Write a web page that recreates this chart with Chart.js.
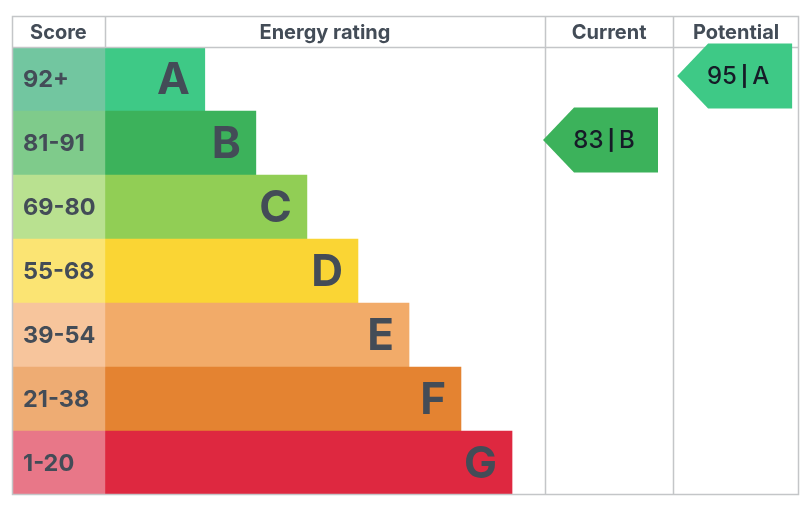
<!DOCTYPE html>
<html>
<head>
<meta charset="utf-8">
<script src="https://cdn.jsdelivr.net/npm/chart.js@4/dist/chart.umd.min.js"></script>
<style>
  html, body { margin: 0; padding: 0; background: #ffffff; }
  #wrap { width: 810px; height: 514px; }
</style>
</head>
<body>
<div id="wrap"><canvas id="epc" width="810" height="514"></canvas></div>
<script>
// Data
const ratings = ['A', 'B', 'C', 'D', 'E', 'F', 'G'];
const scoreBands = ['92+', '81-91', '69-80', '55-68', '39-54', '21-38', '1-20'];
// bar length as % of the energy rating column
const barLengths = [22.7, 34.3, 45.9, 57.5, 69.1, 80.9, 92.5];
const currentScore = 83;
const currentRating = 'B';
const potentialScore = 95;
const potentialRating = 'A';

const bandColors = ['#3ec986', '#3cb25b', '#91ce55', '#fad534', '#f2ab69', '#e48331', '#de2840'];
const scoreColors = ['#72c6a0', '#7fcb8b', '#b9e190', '#fbe473', '#f7c59c', '#eeac73', '#e87788'];

// column widths in the same units as the bars (energy column = 100)
const SCORE_W = 21.1;
const ENERGY_W = 100;
const CURRENT_W = 29.1;
const POTENTIAL_W = 28.6;

const gridColor = '#c4c6c8';
const textColor = '#434c57';

const tablePlugin = {
  id: 'epcTable',
  afterDatasetsDraw(chart) {
    const { ctx, chartArea, scales } = chart;
    const x = scales.x, y = scales.y;
    const top = 16;
    const left = chartArea.left, right = chartArea.right, bottom = chartArea.bottom;
    const energyLeft = x.getPixelForValue(0);
    const currentLeft = x.getPixelForValue(ENERGY_W);
    const potentialLeft = x.getPixelForValue(ENERGY_W + CURRENT_W);

    ctx.save();

    // grid
    ctx.strokeStyle = gridColor;
    ctx.lineWidth = 1.5;
    ctx.strokeRect(left + 0.5, top + 0.5, right - left - 1, bottom - top - 1);
    ctx.beginPath();
    ctx.moveTo(left, chartArea.top + 0.5);
    ctx.lineTo(right, chartArea.top + 0.5);
    ctx.moveTo(Math.round(energyLeft) + 0.5, top);
    ctx.lineTo(Math.round(energyLeft) + 0.5, chartArea.top);
    ctx.moveTo(Math.round(currentLeft) + 0.5, top);
    ctx.lineTo(Math.round(currentLeft) + 0.5, bottom);
    ctx.moveTo(Math.round(potentialLeft) + 0.5, top);
    ctx.lineTo(Math.round(potentialLeft) + 0.5, bottom);
    ctx.stroke();

    // header
    const headY = (top + chartArea.top) / 2 + 1;
    ctx.fillStyle = textColor;
    ctx.font = 'bold 20px Inter, "Noto Sans", sans-serif';
    ctx.textAlign = 'center';
    ctx.textBaseline = 'middle';
    ctx.fillText('Score', (left + energyLeft) / 2, headY);
    ctx.fillText('Energy rating', (energyLeft + currentLeft) / 2, headY);
    ctx.fillText('Current', (currentLeft + potentialLeft) / 2, headY);
    ctx.fillText('Potential', (potentialLeft + right) / 2, headY);

    // score labels and letters
    ratings.forEach((r, i) => {
      const cy = y.getPixelForValue(i) + 1;
      ctx.textAlign = 'left';
      ctx.font = 'bold 23.5px Inter, "Noto Sans", sans-serif';
      ctx.fillText(scoreBands[i], left + 11, cy);
      ctx.textAlign = 'right';
      ctx.font = 'bold 44px Inter, "Noto Sans", sans-serif';
      ctx.fillText(r, x.getPixelForValue(barLengths[i]) - 15, cy + 1);
    });

    // arrows
    const drawArrow = (score, rating, tipX, color) => {
      const i = ratings.indexOf(rating);
      const cy = y.getPixelForValue(i) - 3;
      const h = 65, w = 115, tip = 31;
      ctx.fillStyle = color;
      ctx.beginPath();
      ctx.moveTo(tipX, cy);
      ctx.lineTo(tipX + tip, cy - h / 2);
      ctx.lineTo(tipX + w, cy - h / 2);
      ctx.lineTo(tipX + w, cy + h / 2);
      ctx.lineTo(tipX + tip, cy + h / 2);
      ctx.closePath();
      ctx.fill();

      // "83 | B" as three parts, heavier pipe
      const fontMain = '500 24px Inter, "Noto Sans", sans-serif';
      const fontPipe = 'bold 20px Inter, "Noto Sans", sans-serif';
      const gap = 4;
      ctx.font = fontMain;
      const w1 = ctx.measureText(String(score)).width;
      const w2 = ctx.measureText(rating).width;
      ctx.font = fontPipe;
      const wp = ctx.measureText('|').width;
      const total = w1 + gap + wp + gap + w2;
      let tx = tipX + w / 2 + 3.5 - total / 2;
      const ty = cy + 1;
      ctx.fillStyle = '#161b27';
      ctx.textAlign = 'left';
      ctx.font = fontMain;
      ctx.fillText(String(score), tx, ty);
      tx += w1 + gap;
      ctx.font = fontPipe;
      ctx.fillText('|', tx, ty);
      tx += wp + gap;
      ctx.font = fontMain;
      ctx.fillText(rating, tx, ty);
    };
    drawArrow(currentScore, currentRating, currentLeft - 2, bandColors[ratings.indexOf(currentRating)]);
    drawArrow(potentialScore, potentialRating, potentialLeft + 4, bandColors[ratings.indexOf(potentialRating)]);

    ctx.restore();
  }
};

new Chart(document.getElementById('epc'), {
  type: 'bar',
  data: {
    labels: ratings,
    datasets: [
      {
        label: 'Score',
        data: ratings.map(() => [-SCORE_W, 0]),
        backgroundColor: scoreColors,
        grouped: false,
        barPercentage: 1,
        categoryPercentage: 1,
        borderWidth: 0
      },
      {
        label: 'Energy rating',
        data: barLengths.map(v => [0, v]),
        backgroundColor: bandColors,
        grouped: false,
        barPercentage: 1,
        categoryPercentage: 1,
        borderWidth: 0
      }
    ]
  },
  options: {
    indexAxis: 'y',
    responsive: false,
    animation: false,
    devicePixelRatio: 1,
    layout: { padding: { left: 12, right: 11, top: 47, bottom: 19 } },
    plugins: { legend: { display: false }, tooltip: { enabled: false } },
    scales: {
      x: { type: 'linear', display: false, min: -SCORE_W, max: ENERGY_W + CURRENT_W + POTENTIAL_W },
      y: { display: false }
    }
  },
  plugins: [tablePlugin]
});
</script>
</body>
</html>
